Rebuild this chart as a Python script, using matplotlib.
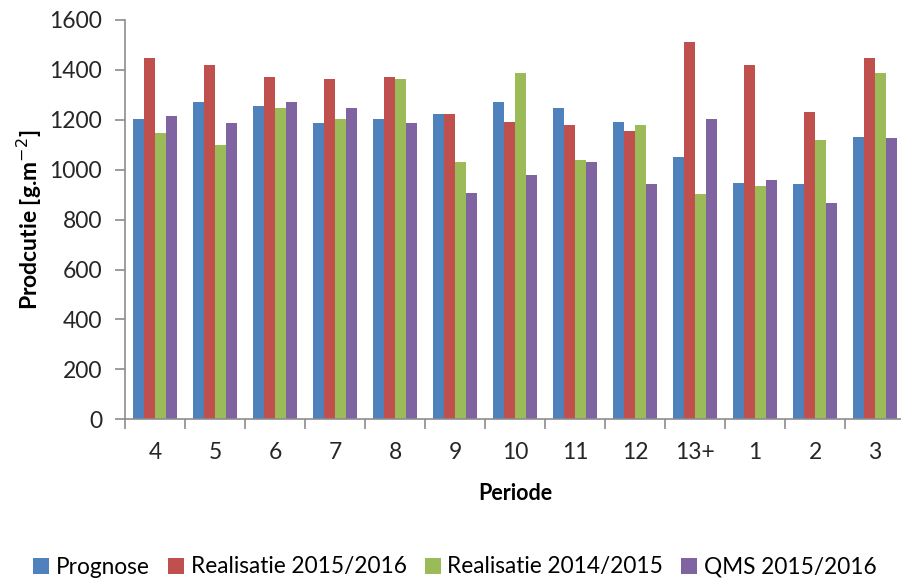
import matplotlib
matplotlib.use("Agg")
import matplotlib.pyplot as plt
import numpy as np
from matplotlib.patches import Patch

plt.rcParams['font.family'] = ['Lato', 'DejaVu Sans']

categories = ["4", "5", "6", "7", "8", "9", "10", "11", "12", "13+", "1", "2", "3"]
prognose = [1203, 1273, 1255, 1187, 1203, 1223, 1270, 1248, 1193, 1051, 948, 942, 1132]
real_1516 = [1449, 1418, 1370, 1363, 1371, 1223, 1193, 1179, 1157, 1510, 1420, 1233, 1446]
real_1415 = [1147, 1101, 1248, 1203, 1363, 1032, 1386, 1039, 1179, 902, 934, 1119, 1387]
qms_1516 = [1217, 1187, 1273, 1248, 1187, 905, 980, 1032, 942, 1203, 957, 866, 1128]
series_names = ["Prognose", "Realisatie 2015/2016", "Realisatie 2014/2015", "QMS 2015/2016"]
colors = ["#4F81BD", "#C0504D", "#9BBB59", "#8064A2"]

fig = plt.figure(figsize=(9.01, 5.84), dpi=100)
ax = fig.add_axes([125/901, (584-419.3)/584, 780/901, 399.3/584])

x = np.arange(len(categories))
w = 0.183
data = [prognose, real_1516, real_1415, qms_1516]
for i, (vals, c, name) in enumerate(zip(data, colors, series_names)):
    ax.bar(x + (i - 1.5) * w, vals, width=w, color=c, label=name, linewidth=0)

ax.set_xlim(-0.5, len(categories) - 0.5)
ax.set_ylim(0, 1600)
ax.set_yticks(np.arange(0, 1601, 200))
ax.set_xticks(x)
ax.set_xticklabels(categories)
ax.set_xticks(np.arange(-0.5, len(categories), 1), minor=True)

for s in ["top", "right"]:
    ax.spines[s].set_visible(False)
for s in ["left", "bottom"]:
    ax.spines[s].set_color("#8c8c8c")
    ax.spines[s].set_linewidth(1.2)

ax.tick_params(axis="y", length=7.5, width=1.2, color="#8c8c8c", labelsize=16.5, labelcolor="#262626", pad=9)
ax.tick_params(axis="x", which="major", length=0, labelsize=16.5, labelcolor="#262626", pad=16)
ax.tick_params(axis="x", which="minor", length=7.5, width=1.2, color="#8c8c8c")

ax.set_ylabel("Prodcutie [g.m$^{-2}$]", fontsize=16.5, fontweight="bold", labelpad=4)
ax.set_xlabel("Periode", fontsize=15.5, fontweight="bold", labelpad=15)

handles = [Patch(facecolor=c, label=n) for c, n in zip(colors, series_names)]
fig.legend(handles=handles, loc="center", bbox_to_anchor=(0.505, 1 - 567/584), ncol=4,
           frameon=False, fontsize=16.3, handlelength=0.7, handleheight=0.7,
           handletextpad=0.3, columnspacing=0.8)

fig.savefig("out.png", dpi=100)
